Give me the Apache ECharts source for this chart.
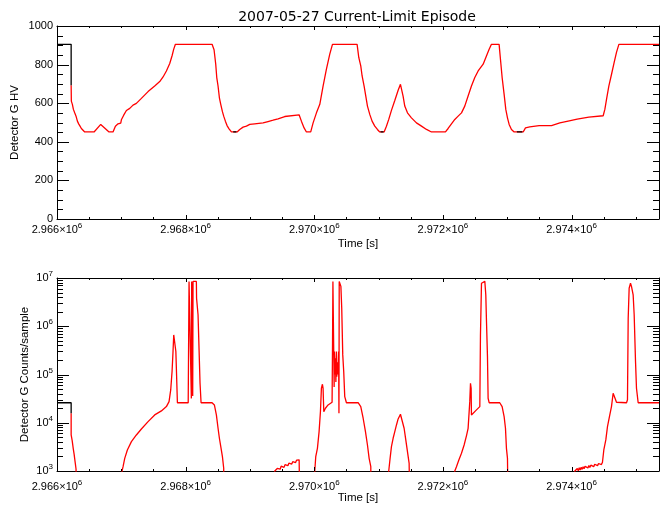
<!DOCTYPE html>
<html><head><meta charset="utf-8">
<script src="https://cdn.jsdelivr.net/npm/echarts@6/dist/echarts.min.js"></script>
<style>html,body{margin:0;padding:0;background:#fff}#c{width:670px;height:511px}</style>
</head><body><div id="c"></div>
<script>
// Time values are seconds after T0 (= 2.966x10^6 s)
const T0 = 2966000;
const X_MIN = 2966000, X_MAX = 2975360;

const xMajorTicks = [2966000, 2968000, 2970000, 2972000, 2974000];
const hvYTicks = [0, 200, 400, 600, 800, 1000];
const cntDecades = [1e3, 1e4, 1e5, 1e6, 1e7];

// Detector G HV (red trace)
const hvRed = [[220,693],[223,611],[239,594],[255,568],[275,550],[296,533],[317,507],[337,493],[358,481],[379,469],[405,460],[431,451],[576,451],[680,490],[809,451],[871,451],[908,481],[949,493],[991,497],[1001,514],[1037,538],[1079,562],[1131,573],[1182,590],[1234,599],[1312,625],[1416,660],[1519,689],[1597,712],[1649,736],[1701,767],[1753,806],[1789,846],[1815,880],[1841,905],[2411,905],[2442,877],[2468,802],[2484,733],[2504,689],[2525,628],[2546,594],[2572,556],[2592,533],[2618,507],[2644,484],[2675,467],[2712,451],[2800,451],[2841,464],[2893,476],[2945,481],[2997,490],[3074,493],[3204,498],[3281,505],[3360,512],[3437,519],[3541,531],[3764,540],[3800,507],[3842,472],[3878,451],[3945,451],[3982,498],[4034,550],[4086,594],[4137,689],[4189,776],[4241,854],[4283,905],[4666,905],[4692,837],[4723,793],[4744,741],[4775,689],[4801,637],[4827,585],[4863,542],[4899,507],[4941,481],[4982,464],[5018,451],[5086,451],[5122,481],[5158,516],[5200,563],[5252,614],[5303,666],[5340,698],[5361,698],[5381,637],[5407,585],[5449,550],[5511,524],[5589,498],[5667,481],[5745,464],[5822,451],[6040,451],[6081,469],[6133,493],[6185,516],[6237,533],[6289,550],[6340,585],[6392,637],[6444,689],[6496,733],[6548,767],[6626,802],[6677,845],[6719,880],[6755,905],[6874,905],[6895,828],[6921,733],[6952,646],[6978,568],[7004,524],[7030,490],[7066,464],[7108,451],[7248,451],[7284,472],[7351,477],[7496,484],[7689,484],[7714,490],[7818,498],[7947,507],[8088,517],[8269,528],[8492,535],[8518,568],[8544,620],[8580,689],[8622,750],[8663,811],[8699,863],[8736,905],[9360,905]];
// Detector G HV (black trace, visible parts)
const hvBlack = [[0,905],[220,905],[220,693],[221,null],[2740,451],[2790,451],[2791,null],[5030,451],[5078,451],[5079,null],[7150,451],[7235,451]];

// Detector G counts/sample (red trace)
const cntRed = [[220,15700],[220,5580],[236,5580],[236,4260],[252,4260],[252,2950],[266,2950],[266,2240],[281,2240],[281,1560],[296,1560],[296,1100],[312,1100],[312,10],
[1005,10],[1011,1000],[1027,1230],[1053,1830],[1094,2730],[1157,4060],[1234,5580],[1312,7430],[1416,10540],[1519,14530],[1623,17600],[1701,21600],[1742,27400],[1765,30000],[1768,47900],[1789,115000],[1804,299000],[1815,661000],[1841,661000],[1848,300000],[1856,135000],[1866,135000],[1872,26000],[2040,26000],[2053,26000],[2053,8.5e6],[2084,8.5e6],[2089,32000],[2094,8.5e6],[2105,8.5e6],[2110,36000],[2115,8.5e6],[2167,8.5e6],[2170,3.8e6],[2193,1.73e6],[2209,324000],[2224,65900],[2240,26000],[2411,26000],[2447,23400],[2478,14530],[2504,7680],[2525,4770],[2551,2950],[2572,1980],[2592,1140],[2603,10],
[3380,10],[3386,1000],[3395,1060],[3410,980],[3425,1130],[3440,1040],[3455,1190],[3470,1090],[3485,1260],[3500,1150],[3515,1300],[3530,1190],[3545,1350],[3560,1240],[3575,1400],[3590,1290],[3605,1450],[3620,1340],[3635,1500],[3650,1390],[3665,1560],[3680,1440],[3695,1610],[3710,1500],[3725,1680],[3740,1560],[3750,1760],[3765,1700],[3774,1750],[3780,1650],[3785,10],
[4000,10],[4008,1000],[4023,1980],[4049,2950],[4075,6550],[4096,17000],[4111,51900],[4127,62800],[4137,51900],[4148,17000],[4174,20000],[4215,23400],[4277,26600],[4282,26600],[4284,446000],[4290,8.5e6],[4306,8.5e6],[4309,55000],[4313,300000],[4320,300000],[4324,100000],[4330,217000],[4336,70000],[4344,300000],[4350,90000],[4360,180000],[4370,100000],[4378,300000],[4384,15700],[4388,8.5e6],[4410,8.5e6],[4414,6.7e6],[4427,2.4e6],[4443,255000],[4458,115000],[4474,34800],[4500,26000],[4682,26000],[4723,21600],[4760,12400],[4796,6550],[4827,3460],[4853,1830],[4879,1230],[4889,10],
[5150,10],[5158,1000],[5179,1830],[5200,3200],[5226,4770],[5252,6550],[5278,9000],[5304,12000],[5340,15000],[5371,15000],[5397,7680],[5423,4400],[5449,2520],[5475,1440],[5501,10],
[6180,10],[6185,1000],[6211,1230],[6248,1690],[6289,2330],[6330,3460],[6367,5410],[6392,7680],[6418,27400],[6429,65900],[6439,51900],[6444,14530],[6470,15700],[6522,18500],[6574,21600],[6584,661000],[6600,7.8e6],[6610,8.5e6],[6652,8.5e6],[6667,4.48e6],[6677,1.36e6],[6693,235000],[6703,32200],[6719,26000],[6884,26000],[6921,21600],[6952,13400],[6973,7680],[6988,2950],[7004,1830],[7025,10],
[8045,10],[8051,1000],[8060,1080],[8075,960],[8090,1130],[8105,1010],[8120,1170],[8135,1050],[8150,1200],[8165,1080],[8180,1230],[8195,1110],[8210,1250],[8225,1140],[8240,1280],[8255,1160],[8270,1300],[8285,1180],[8300,1320],[8315,1200],[8330,1350],[8345,1230],[8360,1380],[8375,1260],[8390,1400],[8405,1290],[8420,1430],[8435,1320],[8450,1460],[8465,1360],[8481,1520],[8502,2730],[8533,4400],[8559,8320],[8595,14530],[8621,21600],[8647,40800],[8660,38000],[8673,40800],[8685,30000],[8699,26600],[8855,26000],[8870,30000],[8881,1.47e6],[8896,6.17e6],[8917,7.8e6],[8932,6.67e6],[8958,4.48e6],[8974,1.73e6],[8995,185000],[9010,51900],[9036,26000],[9120,26000],[9125,24500],[9130,26000],[9210,26000],[9215,24500],[9220,26000],[9300,26000],[9305,24500],[9310,26000],[9360,26000]];
// Detector G counts/sample (black trace, visible part)
const cntBlack = [[0,26000],[220,26000],[220,15700]];

// tick marks: [value, length]
const xTickMarks = [];
for (let t = 2966000; t <= 2975000; t += 500) xTickMarks.push([t, xMajorTicks.includes(t) ? 4 : 2]);
const hvYTickMarks = [];
for (let v = 0; v <= 1000; v += 50) hvYTickMarks.push([v, hvYTicks.includes(v) ? 12 : 6]);
const logYTickMarks = [];
for (let k = 3; k <= 7; k++) for (let m = 1; m <= 9; m++) { const v = m * Math.pow(10, k); if (v <= 1e7) logYTickMarks.push([v, m === 1 ? 12 : 6]); }

const toXY = arr => arr.map(p => [T0 + p[0], p[1] === null ? '-' : p[1]]);

const FONT = 'Liberation Sans';
const richLab = {
  b: {fontFamily: FONT, fontSize: 11, lineHeight: 16, color: '#000'},
  s: {fontFamily: FONT, fontSize: 8, lineHeight: 10, verticalAlign: 'top', color: '#000'}
};
const nameStyle = {fontFamily: FONT, fontSize: 11.5, color: '#000'};
const lineBlack = {color: '#000', width: 1};

function xAxesFor(grid, labelMargin, nameGap) {
  const base = {type: 'value', gridIndex: grid, min: X_MIN, max: X_MAX, interval: 2000, splitLine: {show: false}, minorTick: {show: false}, axisTick: {show: false}};
  return [
    Object.assign({}, base, {
      position: 'bottom',
      axisLine: {show: true, onZero: false, lineStyle: lineBlack},
      axisLabel: {show: true, margin: labelMargin, showMaxLabel: false, showMinLabel: true, hideOverlap: false,
        formatter: v => '{b|' + (v / 1e6).toFixed(3) + '×10}{s|6}', rich: richLab},
      name: 'Time [s]', nameLocation: 'middle', nameGap: nameGap, nameMoveOverlap: false, nameTextStyle: nameStyle
    }),
    Object.assign({}, base, {
      position: 'top',
      axisLine: {show: true, onZero: false, lineStyle: lineBlack},
      axisLabel: {show: false}
    })
  ];
}

function crisp(v) { return Math.round(v) + 0.5; }
function line(x1, y1, x2, y2) { return {type: 'line', shape: {x1, y1, x2, y2}, style: {stroke: '#000', lineWidth: 1}}; }

function tickSeries(xi, yi, yMin, yMax, yMarks) {
  return [
    {type: 'custom', xAxisIndex: xi, yAxisIndex: yi, silent: true, clip: false, z: 5,
     data: yMarks.map(m => [X_MIN, m[0], m[1]]), encode: {x: 0, y: 1},
     renderItem: (params, api) => {
       const len = api.value(2);
       const p = api.coord([X_MIN, api.value(1)]);
       const q = api.coord([X_MAX, api.value(1)]);
       const y = crisp(p[1]);
       return {type: 'group', children: [line(p[0], y, p[0] + len, y), line(q[0] - len, y, q[0], y)]};
     }},
    {type: 'custom', xAxisIndex: xi, yAxisIndex: yi, silent: true, clip: false, z: 5,
     data: xTickMarks.map(m => [m[0], yMin, m[1]]), encode: {x: 0, y: 1},
     renderItem: (params, api) => {
       const len = api.value(2);
       const p = api.coord([api.value(0), yMin]);
       const q = api.coord([api.value(0), yMax]);
       const x = crisp(p[0]);
       return {type: 'group', children: [line(x, p[1], x, p[1] - len), line(x, q[1], x, q[1] + len)]};
     }}
  ];
}

const option = {
  animation: false,
  backgroundColor: '#fff',
  graphic: [{
    type: 'text', x: 357, y: 17,
    style: {text: '2007-05-27 Current-Limit Episode', fontFamily: 'DejaVu Sans', fontSize: 14, fill: '#000', align: 'center', verticalAlign: 'middle'}
  }],
  grid: [
    {left: 57, top: 26, width: 602, height: 193, containLabel: false, outerBoundsMode: 'none'},
    {left: 57, top: 278, width: 602, height: 193, containLabel: false, outerBoundsMode: 'none'}
  ],
  xAxis: xAxesFor(0, 3, 19).concat(xAxesFor(1, 8, 21)),
  yAxis: [
    {type: 'value', gridIndex: 0, position: 'left', min: hvYTicks[0], max: hvYTicks[hvYTicks.length - 1], interval: 200,
     axisLine: {show: true, onZero: false, lineStyle: lineBlack},
     axisTick: {show: false}, minorTick: {show: false},
     axisLabel: {show: true, margin: 4, color: '#000', fontFamily: FONT, fontSize: 11, formatter: v => String(v)},
     splitLine: {show: false},
     name: 'Detector G HV', nameLocation: 'middle', nameGap: 36, nameMoveOverlap: false, nameTextStyle: nameStyle},
    {type: 'value', gridIndex: 0, position: 'right', min: 0, max: 1000, interval: 200,
     axisLine: {show: true, onZero: false, lineStyle: lineBlack},
     axisTick: {show: false}, minorTick: {show: false},
     axisLabel: {show: false}, splitLine: {show: false}},
    {type: 'log', logBase: 10, gridIndex: 1, position: 'left', min: cntDecades[0], max: cntDecades[cntDecades.length - 1],
     axisLine: {show: true, onZero: false, lineStyle: lineBlack},
     axisTick: {show: false}, minorTick: {show: false},
     axisLabel: {show: true, margin: 4, formatter: v => '{b|10}{s|' + Math.round(Math.log10(v)) + '}', rich: richLab},
     splitLine: {show: false},
     name: 'Detector G Counts/sample', nameLocation: 'middle', nameGap: 26, nameMoveOverlap: false, nameTextStyle: nameStyle},
    {type: 'log', logBase: 10, gridIndex: 1, position: 'right', min: 1e3, max: 1e7,
     axisLine: {show: true, onZero: false, lineStyle: lineBlack},
     axisTick: {show: false}, minorTick: {show: false}, axisLabel: {show: false}, splitLine: {show: false}}
  ],
  series: [
    {type: 'line', xAxisIndex: 0, yAxisIndex: 0, data: toXY(hvRed), showSymbol: false, symbol: 'none',
     lineStyle: {color: '#ff0000', width: 1.3}, z: 2, clip: true, connectNulls: false},
    {type: 'line', xAxisIndex: 0, yAxisIndex: 0, data: toXY(hvBlack), showSymbol: false, symbol: 'none',
     lineStyle: {color: '#000', width: 1.3}, z: 3, clip: true, connectNulls: false},
    {type: 'line', xAxisIndex: 2, yAxisIndex: 2, data: toXY(cntRed), showSymbol: false, symbol: 'none',
     lineStyle: {color: '#ff0000', width: 1.3}, z: 2, clip: true},
    {type: 'line', xAxisIndex: 2, yAxisIndex: 2, data: toXY(cntBlack), showSymbol: false, symbol: 'none',
     lineStyle: {color: '#000', width: 1.3}, z: 3, clip: true}
  ].concat(tickSeries(0, 0, 0, 1000, hvYTickMarks), tickSeries(2, 2, 1e3, 1e7, logYTickMarks))
};

const chart = echarts.init(document.getElementById('c'), null, {renderer: 'canvas'});
chart.setOption(option);
</script>
</body></html>
